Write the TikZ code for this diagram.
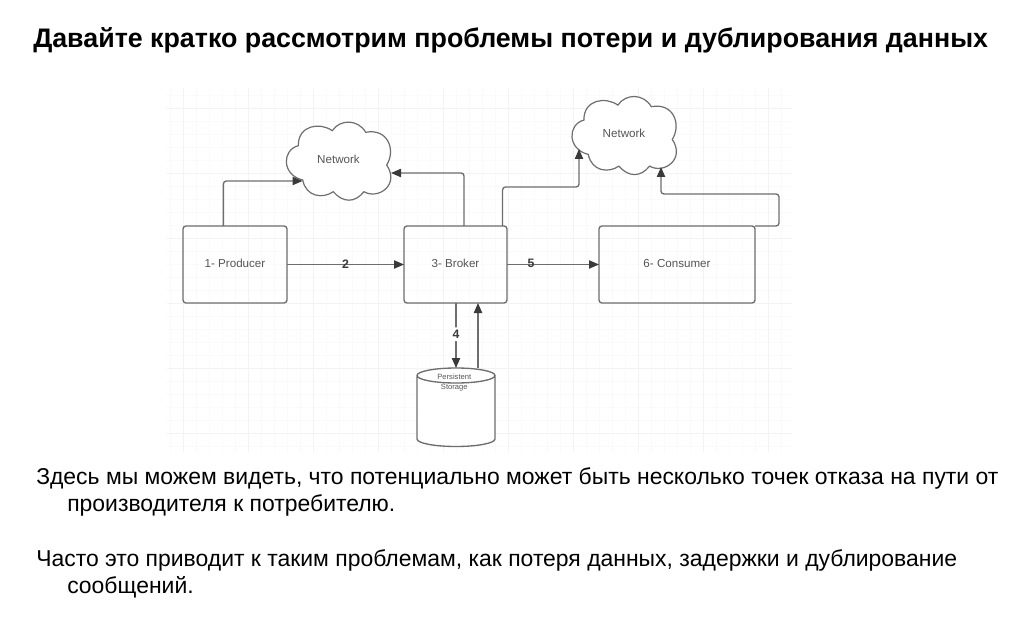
\documentclass[tikz,border=0pt]{standalone}
\usepackage{fontspec}
\setmainfont{Liberation Sans}
\usetikzlibrary{arrows.meta}
\definecolor{ln}{HTML}{6E6E6E}
\definecolor{tp}{HTML}{3A3A3A}
\definecolor{lb}{HTML}{555555}
\definecolor{gmin}{HTML}{FAFAFA}
\definecolor{gmaj}{HTML}{F3F3F3}
\newcommand{\up}[1]{\raisebox{2.2pt}{#1}}
\tikzset{
  box/.style={draw=ln,line width=1pt,rounded corners=2.2pt,inner sep=0pt,outer sep=0pt,text=lb,font=\fontsize{8.7pt}{10pt}\selectfont},
  conn/.style={draw=ln,line width=1pt,rounded corners=2.2pt,-{Triangle[length=7.5pt,width=6.2pt,color=tp]}},
  num/.style={inner sep=0.6pt,text=tp,font=\fontsize{9.2pt}{10pt}\selectfont\bfseries},
  cloudline/.style={draw=ln,line width=0.9pt,fill=white},
  cloudtext/.style={inner sep=0pt,text=lb,font=\fontsize{8.7pt}{10pt}\selectfont},
  titletext/.style={anchor=base west,inner sep=0pt,font=\fontsize{20.1pt}{24pt}\selectfont\bfseries},
  bodytext/.style={anchor=base west,inner sep=0pt,text=black,font=\fontsize{17.2pt}{20pt}\selectfont},
}
\begin{document}
\begin{tikzpicture}[x=0.75pt,y=-0.75pt]
\useasboundingbox (0,0) rectangle (1024,638);
\fill[white] (0,0) rectangle (1024,638);
% grid
\foreach \i in {0,...,47} {\draw[gmin,line width=0.5pt] ({170+13*\i},88) -- ({170+13*\i},452);}
\foreach \i in {0,...,27} {\draw[gmin,line width=0.5pt] (167,{95+13*\i}) -- (792,{95+13*\i});}
\foreach \i in {0,...,9} {\draw[gmaj,line width=0.6pt] ({183+65*\i},88) -- ({183+65*\i},452);}
\foreach \i in {0,...,5} {\draw[gmaj,line width=0.6pt] (167,{108+65*\i}) -- (792,{108+65*\i});}
% clouds
\foreach \dx/\dy in {0/0,285.6/-25.6} {
\begin{scope}[shift={(\dx,\dy)}]
\path[cloudline] (298.3,145.7) .. controls (281.7,150) and (281.7,175) .. (302.7,180)
  .. controls (306,197) and (323,199) .. (333.3,191.7)
  .. controls (343,203) and (355,203) .. (364,191.7)
  .. controls (378,200) and (400,185) .. (386.7,165)
  .. controls (396,150) and (388,128) .. (365.7,132.3)
  .. controls (358,119) and (340,119) .. (332.3,130.7)
  .. controls (320,122) and (298,125) .. (298.3,145.7) -- cycle;
\end{scope}}
\node[cloudtext] (netA) at (338.5,159.5) {Network};
\node[cloudtext] (netB) at (624,133.5) {Network};
\coordinate (netAin) at (302.5,181);
\coordinate (netAinb) at (391,173);
\coordinate (netBin) at (579,149);
\coordinate (netBinb) at (661,167);
% boxes
\node[box,minimum width=78pt,minimum height=57.75pt] (prod) at (235,264.5) {\up{1- Producer}};
\node[box,minimum width=77.25pt,minimum height=57.75pt] (brok) at (455.5,264.5) {\up{3- Broker}};
\node[box,minimum width=117pt,minimum height=57.75pt] (cons) at (677,264.5) {\up{6- Consumer}};
\node[inner sep=0pt,outer sep=0pt,minimum width=58.5pt,minimum height=58.5pt] (stor) at (456,407) {};
\draw[draw=ln,line width=1pt,fill=white] (stor.north west) ++(0,7.5) arc[start angle=180,end angle=-180,x radius=39,y radius=7.5]
  -- ++(0,63.5) arc[start angle=180,end angle=0,x radius=39,y radius=7.5] -- ++(0,-63.5);
\node[inner sep=0pt,align=center,text=lb,font=\fontsize{5.7pt}{7.2pt}\selectfont] (stortxt) at (454.3,382.5) {Persistent\\Storage};
% connectors
\draw[conn] ([xshift=-8.7pt]prod.north) |- (netAin);
\draw[conn] ([xshift=6.4pt]brok.north) |- (netAinb);
\draw[conn] ([xshift=35.3pt]brok.north) -- ++(0,-39) -- (netBin |- 0,187) -- (netBin);
\draw[conn] (cons.north east) -- ++(24,0) -- ++(0,-32) -- (netBinb |- 0,194) -- (netBinb);
\draw[conn] (prod.east) -- (brok.west) node[num,pos=0.5,yshift=0.5pt] (n2) {2};
\draw[conn] (brok.east) -- (cons.west) node[num,pos=0.26,yshift=0.5pt] (n5) {5};
\draw[conn] (brok.south -| stor.north) -- (stor.north) node[num,fill=white,inner ysep=2pt,pos=0.48] (n4) {4};
\draw[conn] ([xshift=16.5pt]stor.north) -- ([xshift=16.5pt]stor.north |- brok.south);
% text
\node[titletext] (ttl) at (33,48) {Давайте кратко рассмотрим проблемы потери и дублирования данных};
\node[bodytext] (l1) at (36,484.3) {Здесь мы можем видеть, что потенциально может быть несколько точек отказа на пути от};
\node[bodytext] (l2) at (67,511) {производителя к потребителю.};
\node[bodytext] (l3) at (36,566.7) {Часто это приводит к таким проблемам, как потеря данных, задержки и дублирование};
\node[bodytext] (l4) at (67,593.5) {сообщений.};
\end{tikzpicture}
\end{document}
